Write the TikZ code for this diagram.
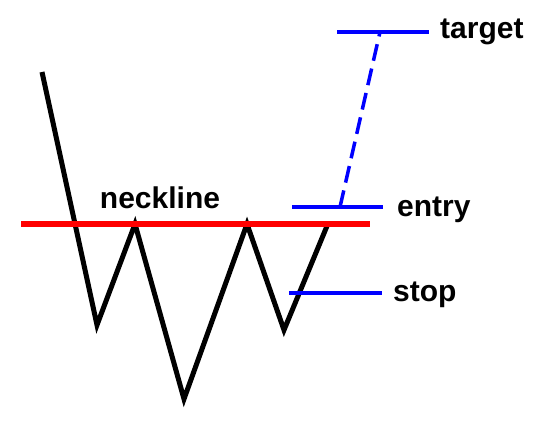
\documentclass[tikz,border=0pt]{standalone}
\usepackage{fontspec}
\setmainfont{Liberation Sans}
\usepackage{tikz}
\usetikzlibrary{positioning}

\begin{document}
\begin{tikzpicture}[
  x=1pt, y=-1pt,
  price/.style={draw=black, line width=5pt},
  neck/.style={draw=red, line width=6pt},
  level/.style={draw=blue, line width=4pt},
  proj/.style={draw=blue, line width=3.5pt, dash pattern=on 17pt off 8pt},
  lbl/.style={font=\bfseries\fontsize{30}{35}\selectfont, inner sep=0pt, anchor=base west}
]
  \useasboundingbox (0,0) rectangle (556,430);

  % price path
  \coordinate (p0) at (42,72);
  \coordinate (t1) at (97,325);
  \coordinate (h1) at (135,224);
  \coordinate (t2) at (184,399);
  \coordinate (h2) at (247,224);
  \coordinate (t3) at (284,330);
  \coordinate (p1) at (327,226);
  \draw[price] (p0) -- (t1) -- (h1) -- (t2) -- (h2) -- (t3) -- (p1);

  % neckline
  \coordinate (nl) at (21,224);
  \coordinate (nr) at (370,224);
  \draw[neck] (nl) -- (nr);
  \node[lbl, anchor=base] (necklbl) at (160,208) {neckline};

  % levels
  \coordinate (tgtl) at (337,32);
  \coordinate (tgtr) at (429,32);
  \coordinate (entl) at (292,207);
  \coordinate (entr) at (383,207);
  \coordinate (stpl) at (289,293);
  \coordinate (stpr) at (382,293);
  \draw[level] (tgtl) -- (tgtr);
  \draw[level] (entl) -- (entr);
  \draw[level] (stpl) -- (stpr);
  \node[lbl] (tgtlbl) at (440,39) {target};
  \node[lbl] (entlbl) at (397,217) {entry};
  \node[lbl] (stplbl) at (393,301) {stop};

  % projected move
  \coordinate (from) at (340,207);
  \coordinate (to) at (380,32);
  \draw[proj] (from) -- (to);
\end{tikzpicture}
\end{document}
